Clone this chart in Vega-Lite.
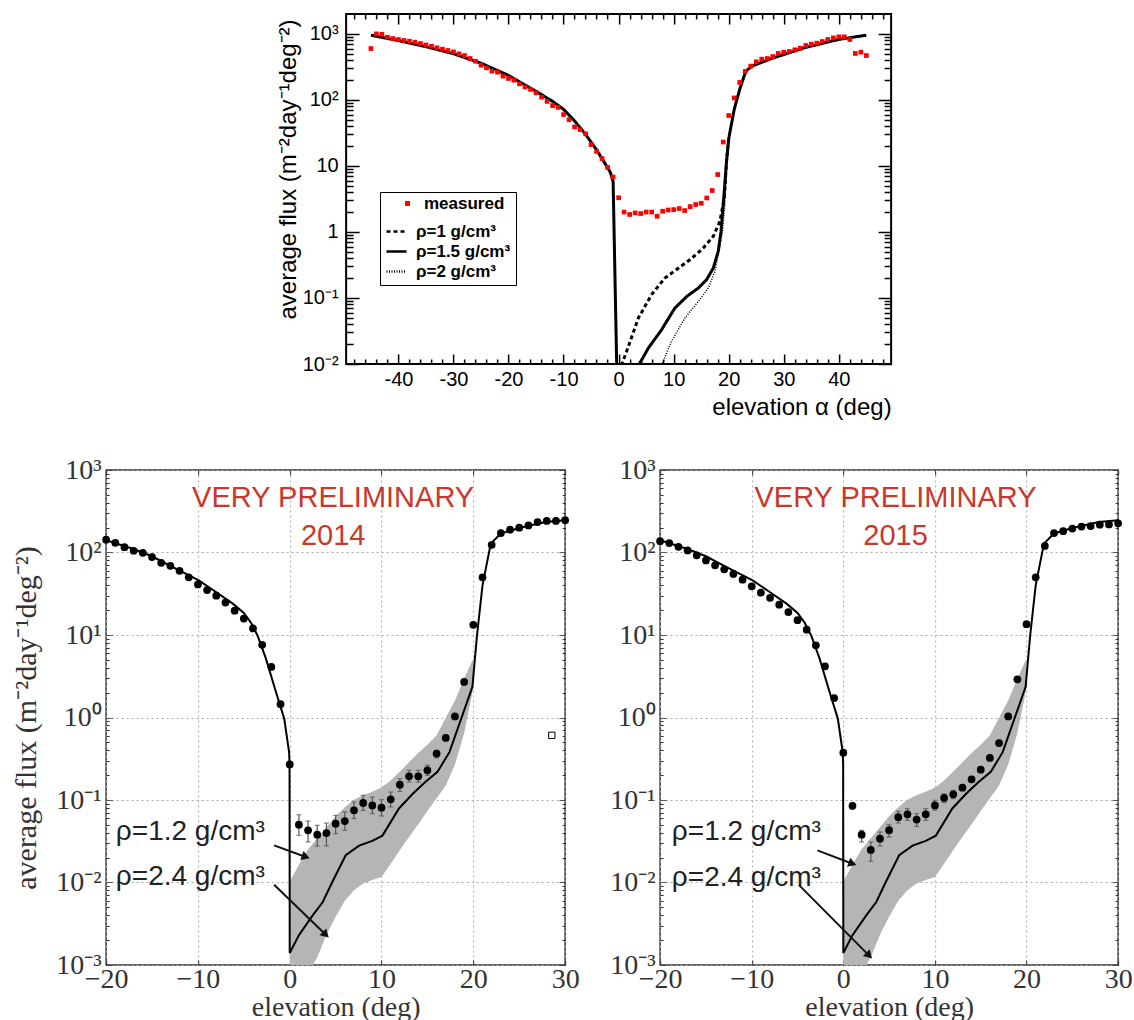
{
 "$schema": "https://vega.github.io/schema/vega-lite/v6.json",
 "padding": {"left": 10, "top": 12, "right": 2, "bottom": 0},
 "background": "white",
 "bounds": "full",
 "center": true,
 "spacing": 35,
 "config": {"font": "Liberation Sans", "axis": {"labelOverlap": false, "labelFlush": false}},
 "datasets": {
  "tmeas": [
   {"x":-45,"y":600},{"x":-44,"y":1000},{"x":-43,"y":985},{"x":-42,"y":890},{"x":-41,"y":850},{"x":-40,"y":820},{"x":-39,"y":795},{"x":-38,"y":775},{"x":-37,"y":750},{"x":-36,"y":715},{"x":-35,"y":680},{"x":-34,"y":650},{"x":-33,"y":615},{"x":-32,"y":586},{"x":-31,"y":560},{"x":-30,"y":533},{"x":-29,"y":498},{"x":-28,"y":470},{"x":-27,"y":424},{"x":-26,"y":385},{"x":-25,"y":336},{"x":-24,"y":306},{"x":-23,"y":272},{"x":-22,"y":263},{"x":-21,"y":229},{"x":-20,"y":211},{"x":-19,"y":199},{"x":-18,"y":175},{"x":-17,"y":157},{"x":-16,"y":144},{"x":-15,"y":128},{"x":-14,"y":110},{"x":-13,"y":95},{"x":-12,"y":82},{"x":-11,"y":77},{"x":-10,"y":60},{"x":-9,"y":50},{"x":-8,"y":39},{"x":-7,"y":35.5},{"x":-6,"y":30.6},{"x":-5,"y":21},{"x":-4,"y":16.6},{"x":-3,"y":12.9},{"x":-2,"y":9.5},{"x":-1,"y":6.8},{"x":0,"y":3.3},{"x":1,"y":2.0},{"x":2,"y":1.84},{"x":3,"y":1.94},{"x":4,"y":1.9},{"x":5,"y":2.0},{"x":6,"y":2.0},{"x":7,"y":1.73},{"x":8,"y":2.06},{"x":9,"y":2.15},{"x":10,"y":2.18},{"x":11,"y":2.26},{"x":12,"y":2.11},{"x":13,"y":2.42},{"x":14,"y":2.6},{"x":15,"y":2.72},{"x":16,"y":3.27},{"x":17,"y":4.24},{"x":18,"y":7.4},{"x":19,"y":23},{"x":20,"y":58},{"x":21,"y":107},{"x":22,"y":184},{"x":23,"y":270},{"x":24,"y":325},{"x":25,"y":377},{"x":26,"y":414},{"x":27,"y":424},{"x":28,"y":454},{"x":29,"y":505},{"x":30,"y":528},{"x":31,"y":541},{"x":32,"y":573},{"x":33,"y":607},{"x":34,"y":667},{"x":35,"y":698},{"x":36,"y":723},{"x":37,"y":767},{"x":38,"y":822},{"x":39,"y":869},{"x":40,"y":901},{"x":41,"y":901},{"x":42,"y":822},{"x":43,"y":505},{"x":44,"y":528},{"x":45,"y":470}
  ],
  "tmodel": [
   {"series":"ρ=1.5 g/cm³","seg":"L","x":-45,"y":955},
   {"series":"ρ=1.5 g/cm³","seg":"L","x":-40,"y":790},
   {"series":"ρ=1.5 g/cm³","seg":"L","x":-35,"y":640},
   {"series":"ρ=1.5 g/cm³","seg":"L","x":-30,"y":500},
   {"series":"ρ=1.5 g/cm³","seg":"L","x":-25,"y":360},
   {"series":"ρ=1.5 g/cm³","seg":"L","x":-20,"y":235},
   {"series":"ρ=1.5 g/cm³","seg":"L","x":-15,"y":135},
   {"series":"ρ=1.5 g/cm³","seg":"L","x":-12,"y":95},
   {"series":"ρ=1.5 g/cm³","seg":"L","x":-10,"y":72},
   {"series":"ρ=1.5 g/cm³","seg":"L","x":-8,"y":48},
   {"series":"ρ=1.5 g/cm³","seg":"L","x":-6,"y":30},
   {"series":"ρ=1.5 g/cm³","seg":"L","x":-4,"y":17.5},
   {"series":"ρ=1.5 g/cm³","seg":"L","x":-2.5,"y":11},
   {"series":"ρ=1.5 g/cm³","seg":"L","x":-1.5,"y":8},
   {"series":"ρ=1.5 g/cm³","seg":"L","x":-1,"y":5.8},
   {"series":"ρ=1.5 g/cm³","seg":"L","x":-0.35,"y":0.0095},
   {"series":"ρ=1.5 g/cm³","seg":"R","x":3.6,"y":0.0095},
   {"series":"ρ=1.5 g/cm³","seg":"R","x":5.4,"y":0.0174},
   {"series":"ρ=1.5 g/cm³","seg":"R","x":7.8,"y":0.033},
   {"series":"ρ=1.5 g/cm³","seg":"R","x":10.2,"y":0.07},
   {"series":"ρ=1.5 g/cm³","seg":"R","x":12.4,"y":0.106},
   {"series":"ρ=1.5 g/cm³","seg":"R","x":14.5,"y":0.142},
   {"series":"ρ=1.5 g/cm³","seg":"R","x":16,"y":0.19},
   {"series":"ρ=1.5 g/cm³","seg":"R","x":17.2,"y":0.285},
   {"series":"ρ=1.5 g/cm³","seg":"R","x":18.1,"y":0.51},
   {"series":"ρ=1.5 g/cm³","seg":"R","x":18.6,"y":1.02},
   {"series":"ρ=1.5 g/cm³","seg":"R","x":19.0,"y":2.6},
   {"series":"ρ=1.5 g/cm³","seg":"R","x":19.3,"y":5.5},
   {"series":"ρ=1.5 g/cm³","seg":"R","x":19.6,"y":11.7},
   {"series":"ρ=1.5 g/cm³","seg":"R","x":20,"y":26},
   {"series":"ρ=1.5 g/cm³","seg":"R","x":21,"y":72},
   {"series":"ρ=1.5 g/cm³","seg":"R","x":22,"y":145},
   {"series":"ρ=1.5 g/cm³","seg":"R","x":23.1,"y":272},
   {"series":"ρ=1.5 g/cm³","seg":"R","x":24.2,"y":324},
   {"series":"ρ=1.5 g/cm³","seg":"R","x":27.8,"y":424},
   {"series":"ρ=1.5 g/cm³","seg":"R","x":33.9,"y":620},
   {"series":"ρ=1.5 g/cm³","seg":"R","x":39.9,"y":822},
   {"series":"ρ=1.5 g/cm³","seg":"R","x":45,"y":955},
   {"series":"ρ=1 g/cm³","seg":"R","x":0.5,"y":0.0095},
   {"series":"ρ=1 g/cm³","seg":"R","x":1.45,"y":0.0155},
   {"series":"ρ=1 g/cm³","seg":"R","x":3.6,"y":0.05},
   {"series":"ρ=1 g/cm³","seg":"R","x":6,"y":0.113},
   {"series":"ρ=1 g/cm³","seg":"R","x":8.4,"y":0.2},
   {"series":"ρ=1 g/cm³","seg":"R","x":10.9,"y":0.285},
   {"series":"ρ=1 g/cm³","seg":"R","x":13,"y":0.382},
   {"series":"ρ=1 g/cm³","seg":"R","x":15.1,"y":0.54},
   {"series":"ρ=1 g/cm³","seg":"R","x":17.2,"y":0.86},
   {"series":"ρ=1 g/cm³","seg":"R","x":18.4,"y":1.45},
   {"series":"ρ=1 g/cm³","seg":"R","x":19.2,"y":3.3},
   {"series":"ρ=1 g/cm³","seg":"R","x":19.6,"y":11.7},
   {"series":"ρ=1 g/cm³","seg":"R","x":20,"y":26},
   {"series":"ρ=2 g/cm³","seg":"R","x":7.8,"y":0.0095},
   {"series":"ρ=2 g/cm³","seg":"R","x":9.6,"y":0.022},
   {"series":"ρ=2 g/cm³","seg":"R","x":12.05,"y":0.05},
   {"series":"ρ=2 g/cm³","seg":"R","x":14.5,"y":0.089},
   {"series":"ρ=2 g/cm³","seg":"R","x":16.3,"y":0.142},
   {"series":"ρ=2 g/cm³","seg":"R","x":17.5,"y":0.254},
   {"series":"ρ=2 g/cm³","seg":"R","x":18.2,"y":0.51},
   {"series":"ρ=2 g/cm³","seg":"R","x":18.85,"y":1.0},
   {"series":"ρ=2 g/cm³","seg":"R","x":19.3,"y":2.6},
   {"series":"ρ=2 g/cm³","seg":"R","x":19.6,"y":11.7},
   {"series":"ρ=2 g/cm³","seg":"R","x":20,"y":26}
  ],
  "bmodel": [
   {"x":-20,"y":141},{"x":-17.1,"y":111},{"x":-15,"y":90},{"x":-12.8,"y":67},{"x":-9.9,"y":46},{"x":-8,"y":33},{"x":-6.2,"y":24},{"x":-5,"y":18.5},{"x":-4.2,"y":14},{"x":-3.5,"y":9.8},{"x":-2.6,"y":5.2},{"x":-1.5,"y":2.04},{"x":-0.6,"y":0.97},{"x":-0.07,"y":0.38},{"x":-0.02,"y":0.28},{"x":0,"y":0.0014},{"x":1.0,"y":0.0023},{"x":2.5,"y":0.004},{"x":3.6,"y":0.0058},{"x":4.65,"y":0.0102},{"x":6.1,"y":0.0214},{"x":7.56,"y":0.028},{"x":9,"y":0.032},{"x":10.1,"y":0.037},{"x":11.9,"y":0.079},{"x":13.4,"y":0.119},{"x":14.8,"y":0.166},{"x":16.1,"y":0.22},{"x":17.4,"y":0.38},{"x":19.9,"y":2.35},{"x":20.4,"y":9.9},{"x":21,"y":40},{"x":21.9,"y":128},{"x":23,"y":170},{"x":25,"y":198},{"x":27.9,"y":234},{"x":30,"y":246}
  ],
  "band": [
   {"x":0,"lo":0.0004,"hi":0.0102},{"x":1,"lo":0.0006,"hi":0.0164},{"x":2,"lo":0.0008,"hi":0.0253},{"x":3,"lo":0.00124,"hi":0.0345},{"x":4,"lo":0.00232,"hi":0.0469},{"x":5,"lo":0.00384,"hi":0.0637},{"x":6,"lo":0.006,"hi":0.0817},{"x":7,"lo":0.00803,"hi":0.1007},{"x":8,"lo":0.00973,"hi":0.1138},{"x":9,"lo":0.0107,"hi":0.126},{"x":10,"lo":0.0117,"hi":0.142},{"x":11,"lo":0.0169,"hi":0.172},{"x":12,"lo":0.0247,"hi":0.222},{"x":13,"lo":0.0355,"hi":0.287},{"x":14,"lo":0.051,"hi":0.371},{"x":15,"lo":0.0735,"hi":0.469},{"x":16,"lo":0.105,"hi":0.608},{"x":17,"lo":0.15,"hi":0.99},{"x":18,"lo":0.269,"hi":1.61},{"x":19,"lo":0.645,"hi":2.96},{"x":20,"lo":2.3,"hi":5.2}
  ],
  "p14": [
   {"x":-20,"y":143},{"x":-19,"y":131},{"x":-18,"y":116},{"x":-17,"y":105},{"x":-16,"y":99},{"x":-15,"y":88},{"x":-14,"y":75},{"x":-13,"y":69},{"x":-12,"y":60},{"x":-11,"y":50},{"x":-10,"y":41},{"x":-9,"y":35},{"x":-8,"y":30},{"x":-7,"y":24.7},{"x":-6,"y":19.7},{"x":-5,"y":15.8},{"x":-4,"y":12},{"x":-3,"y":7.6},{"x":-2,"y":4.1},{"x":-1,"y":1.45},{"x":0,"y":0.27},{"x":1,"y":0.0502},{"x":2,"y":0.0429},{"x":3,"y":0.038},{"x":4,"y":0.0398},{"x":5,"y":0.0516},{"x":6,"y":0.0556},{"x":7,"y":0.075},{"x":8,"y":0.092},{"x":9,"y":0.086},{"x":10,"y":0.0807},{"x":11,"y":0.102},{"x":12,"y":0.1535},{"x":13,"y":0.1936},{"x":14,"y":0.1936},{"x":15,"y":0.229},{"x":16,"y":0.365},{"x":17,"y":0.565},{"x":18,"y":1.03},{"x":19,"y":2.7},{"x":20,"y":13.3},{"x":21,"y":50},{"x":22,"y":124},{"x":23,"y":172},{"x":24,"y":189},{"x":25,"y":200},{"x":26,"y":213},{"x":27,"y":234},{"x":28,"y":241},{"x":29,"y":241},{"x":30,"y":246}
  ],
  "e14": [
   {"x":1,"lo":0.0373,"hi":0.0664},{"x":2,"lo":0.031,"hi":0.0556},{"x":3,"lo":0.0277,"hi":0.0493},{"x":4,"lo":0.0277,"hi":0.0526},{"x":5,"lo":0.0391,"hi":0.0652},{"x":6,"lo":0.0429,"hi":0.0716},{"x":7,"lo":0.0594,"hi":0.0946},{"x":8,"lo":0.075,"hi":0.114},{"x":9,"lo":0.0683,"hi":0.1087},{"x":10,"lo":0.064,"hi":0.101},{"x":11,"lo":0.0822,"hi":0.125},{"x":12,"lo":0.127,"hi":0.1815},{"x":13,"lo":0.165,"hi":0.229},{"x":14,"lo":0.165,"hi":0.229},{"x":15,"lo":0.199,"hi":0.263},{"x":16,"lo":0.323,"hi":0.4}
  ],
  "p15": [
   {"x":-20,"y":137},{"x":-19,"y":130},{"x":-18,"y":117},{"x":-17,"y":106},{"x":-16,"y":92.5},{"x":-15,"y":80},{"x":-14,"y":70},{"x":-13,"y":62.5},{"x":-12,"y":55},{"x":-11,"y":46.8},{"x":-10,"y":38.9},{"x":-9,"y":32.6},{"x":-8,"y":28.2},{"x":-7,"y":23.3},{"x":-6,"y":19},{"x":-5,"y":15.1},{"x":-4,"y":11.6},{"x":-3,"y":7.5},{"x":-2,"y":4.17},{"x":-1,"y":1.72},{"x":0,"y":0.374},{"x":1,"y":0.085},{"x":2,"y":0.038},{"x":3,"y":0.0248},{"x":4,"y":0.034},{"x":5,"y":0.043},{"x":6,"y":0.062},{"x":7,"y":0.067},{"x":8,"y":0.058},{"x":9,"y":0.067},{"x":10,"y":0.086},{"x":11,"y":0.106},{"x":12,"y":0.117},{"x":13,"y":0.141},{"x":14,"y":0.178},{"x":15,"y":0.233},{"x":16,"y":0.323},{"x":17,"y":0.49},{"x":18,"y":1.03},{"x":19,"y":2.9},{"x":20,"y":13.5},{"x":21,"y":50},{"x":22,"y":120},{"x":23,"y":172},{"x":24,"y":181},{"x":25,"y":195},{"x":26,"y":206},{"x":27,"y":209},{"x":28,"y":217},{"x":29,"y":219},{"x":30,"y":226}
  ],
  "e15": [
   {"x":1,"lo":0.078,"hi":0.092},{"x":2,"lo":0.031,"hi":0.0429},{"x":3,"lo":0.018,"hi":0.031},{"x":4,"lo":0.0277,"hi":0.041},{"x":5,"lo":0.0356,"hi":0.0502},{"x":6,"lo":0.0526,"hi":0.073},{"x":7,"lo":0.0567,"hi":0.0785},{"x":8,"lo":0.048,"hi":0.0683},{"x":9,"lo":0.0567,"hi":0.0785},{"x":10,"lo":0.075,"hi":0.099},{"x":11,"lo":0.093,"hi":0.119},{"x":12,"lo":0.104,"hi":0.131}
  ],
  "t14": [{"x":4.73,"y":457,"text":"VERY PRELIMINARY"},{"x":4.73,"y":158,"text":"2014"}],
  "t15": [{"x":5.7,"y":457,"text":"VERY PRELIMINARY"},{"x":5.7,"y":158,"text":"2015"}],
  "r14": [{"x":-18.94,"y":0.041,"text":"ρ=1.2 g/cm³"},{"x":-18.94,"y":0.0117,"text":"ρ=2.4 g/cm³"}],
  "r15": [{"x":-18.72,"y":0.041,"text":"ρ=1.2 g/cm³"},{"x":-18.72,"y":0.0113,"text":"ρ=2.4 g/cm³"}],
  "a14": [{"k":"a","x":-1.7,"y":0.0282,"x2":1.75,"y2":0.0204},{"k":"b","x":-1.7,"y":0.0094,"x2":3.93,"y2":0.00233}],
  "a15": [{"k":"a","x":-2.83,"y":0.0245,"x2":1.0,"y2":0.0169},{"k":"b","x":-4.83,"y":0.0093,"x2":2.82,"y2":0.0013}],
  "sq14": [{"x":28.55,"y":0.608}]
 },
 "vconcat": [
  {
   "width": 545, "height": 350,
   "view": {"stroke": "black", "strokeWidth": 2},
   "resolve": {"axis": {"x": "independent", "y": "independent"}},
   "layer": [
    {
     "data": {"name": "tmodel"},
     "transform": [{"filter": "datum.series != 'ρ=2 g/cm³'"}],
     "mark": {"type": "line", "clip": true, "color": "black", "strokeWidth": 3},
     "encoding": {
      "x": {"field": "x", "type": "quantitative", "scale": {"domain": [-49.5, 49.5], "nice": false, "zero": false},
            "axis": {"orient": "top", "labels": false, "domain": false, "grid": false, "title": null,
                     "values": [-48,-46,-44,-42,-40,-38,-36,-34,-32,-30,-28,-26,-24,-22,-20,-18,-16,-14,-12,-10,-8,-6,-4,-2,0,2,4,6,8,10,12,14,16,18,20,22,24,26,28,30,32,34,36,38,40,42,44,46,48],
                     "tickColor": "black", "tickWidth": 1.5, "tickSize": -10,
                     "tickDash": {"condition": {"test": "datum.value % 10 === 0", "value": [1, 0]}, "value": [5, 30]}}},
      "y": {"field": "y", "type": "quantitative", "scale": {"type": "log", "domain": [0.01, 2000], "nice": false},
            "axis": {"orient": "right", "labels": false, "domain": false, "grid": false, "title": null,
                     "values": [0.01,0.02,0.03,0.04,0.05,0.06,0.07,0.08,0.09,0.1,0.2,0.3,0.4,0.5,0.6,0.7,0.8,0.9,1,2,3,4,5,6,7,8,9,10,20,30,40,50,60,70,80,90,100,200,300,400,500,600,700,800,900,1000],
                     "tickColor": "black", "tickWidth": 1.5, "tickSize": -13,
                     "tickDash": {"condition": {"test": "abs(log(datum.value)/LN10 - round(log(datum.value)/LN10)) < 1e-6", "value": [1, 0]}, "value": [7, 30]}}},
      "detail": {"field": "seg", "type": "nominal"},
      "strokeDash": {"field": "series", "type": "nominal",
        "scale": {"domain": ["ρ=1 g/cm³", "ρ=1.5 g/cm³", "ρ=2 g/cm³"], "range": [[4,3],[1,0],[1,1.5]]},
        "legend": {
          "orient": "none", "legendX": 274, "legendY": 178, "title": " ", "titleFontSize": 17, "titlePadding": 6,
          "labelFont": "Liberation Sans", "labelFontSize": 17, "labelFontWeight": "bold", "labelColor": "black",
          "labelOffset": 8, "symbolSize": 400, "symbolStrokeWidth": 2.5, "symbolStrokeColor": "black",
          "padding": 5, "rowPadding": 0,
          "strokeColor": "black", "fillColor": "white", "zindex": 1
        }}
     }
    },
    {
     "data": {"name": "tmodel"},
     "transform": [{"filter": "datum.series == 'ρ=2 g/cm³'"}],
     "mark": {"type": "line", "clip": true, "color": "black", "strokeWidth": 1.5},
     "encoding": {
      "x": {"field": "x", "type": "quantitative", "scale": {"domain": [-49.5, 49.5], "nice": false, "zero": false}, "axis": null},
      "y": {"field": "y", "type": "quantitative", "scale": {"type": "log", "domain": [0.01, 2000], "nice": false}, "axis": null},
      "detail": {"field": "seg", "type": "nominal"},
      "strokeDash": {"field": "series", "type": "nominal",
        "scale": {"domain": ["ρ=1 g/cm³", "ρ=1.5 g/cm³", "ρ=2 g/cm³"], "range": [[4,3],[1,0],[1,1.5]]}}
     }
    },
    {
     "data": {"name": "tmeas"},
     "mark": {"type": "square", "size": 22, "opacity": 1},
     "encoding": {
      "x": {"field": "x", "type": "quantitative", "scale": {"domain": [-49.5, 49.5], "nice": false, "zero": false},
            "axis": {"orient": "bottom", "domain": false, "grid": false,
                     "values": [-48,-46,-44,-42,-40,-38,-36,-34,-32,-30,-28,-26,-24,-22,-20,-18,-16,-14,-12,-10,-8,-6,-4,-2,0,2,4,6,8,10,12,14,16,18,20,22,24,26,28,30,32,34,36,38,40,42,44,46,48],
                     "labelExpr": "datum.value % 10 === 0 ? '' + datum.value : ''",
                     "labelFont": "Liberation Sans", "labelFontSize": 20, "labelColor": "black", "labelPadding": 15,
                     "tickColor": "black", "tickWidth": 1.5, "tickSize": -10,
                     "tickDash": {"condition": {"test": "datum.value % 10 === 0", "value": [1, 0]}, "value": [5, 30]},
                     "title": "elevation α (deg)", "titleFont": "Liberation Sans", "titleFontSize": 24, "titleFontWeight": "normal",
                     "titleColor": "black", "titleAnchor": "end", "titlePadding": 6}},
      "y": {"field": "y", "type": "quantitative", "scale": {"type": "log", "domain": [0.01, 2000], "nice": false},
            "axis": {"orient": "left", "domain": false, "grid": false,
                     "values": [0.01,0.02,0.03,0.04,0.05,0.06,0.07,0.08,0.09,0.1,0.2,0.3,0.4,0.5,0.6,0.7,0.8,0.9,1,2,3,4,5,6,7,8,9,10,20,30,40,50,60,70,80,90,100,200,300,400,500,600,700,800,900,1000],
                     "labelExpr": "datum.value == 1000 ? '10³' : datum.value == 100 ? '10²' : datum.value == 10 ? '10' : datum.value == 1 ? '1' : datum.value == 0.1 ? '10⁻¹' : datum.value == 0.01 ? '10⁻²' : ''",
                     "labelFont": "Liberation Sans", "labelFontSize": 20, "labelColor": "black", "labelPadding": 21,
                     "tickColor": "black", "tickWidth": 1.5, "tickSize": -13,
                     "tickDash": {"condition": {"test": "abs(log(datum.value)/LN10 - round(log(datum.value)/LN10)) < 1e-6", "value": [1, 0]}, "value": [7, 30]},
                     "title": "average flux (m⁻²day⁻¹deg⁻²)", "titleFont": "Liberation Sans", "titleFontSize": 24, "titleFontWeight": "normal",
                     "titleColor": "black", "titlePadding": 2, "titleY": 155}},
      "color": {"datum": "measured", "type": "nominal",
        "scale": {"domain": ["measured"], "range": ["red"]},
        "legend": {"orient": "none", "legendX": 293, "legendY": 181, "title": null, "padding": 0,
                   "labelFont": "Liberation Sans", "labelFontSize": 17, "labelFontWeight": "bold", "labelColor": "black",
                   "labelOffset": 8, "symbolType": "square", "symbolSize": 25, "zindex": 2}}
     }
    }
   ]
  },
  {
   "bounds": "flush",
   "spacing": 95,
   "hconcat": [
    {
     "width": 459, "height": 495,
     "view": {"stroke": "#333", "strokeWidth": 1.5},
     "resolve": {"axis": {"x": "independent", "y": "independent"}},
     "layer": [
      {
       "data": {"name": "band"},
       "mark": {"type": "area", "color": "#b5b5b5", "opacity": 1, "clip": true},
       "encoding": {
        "x": {"field": "x", "type": "quantitative", "scale": {"domain": [-20, 30], "nice": false, "zero": false},
              "axis": {"orient": "bottom", "values": [-20,-10,0,10,20,30], "domain": false,
                       "labelExpr": "datum.value < 0 ? '−' + abs(datum.value) : '' + datum.value",
                       "labelFont": "Liberation Serif", "labelFontSize": 28, "labelColor": "#333", "labelPadding": 5,
                       "tickColor": "#333", "tickSize": -5, "grid": true, "gridColor": "#aaa", "gridDash": [2,3], "gridWidth": 1,
                       "title": "elevation (deg)", "titleFont": "Liberation Serif", "titleFontSize": 28, "titleFontWeight": "normal",
                       "titleColor": "#333", "titlePadding": 0}},
        "y": {"field": "lo", "type": "quantitative", "scale": {"type": "log", "domain": [0.001, 1000], "nice": false},
              "axis": {"orient": "left", "domain": false,
                       "values": [0.001,0.002,0.003,0.004,0.005,0.006,0.007,0.008,0.009,0.01,0.02,0.03,0.04,0.05,0.06,0.07,0.08,0.09,0.1,0.2,0.3,0.4,0.5,0.6,0.7,0.8,0.9,1,2,3,4,5,6,7,8,9,10,20,30,40,50,60,70,80,90,100,200,300,400,500,600,700,800,900,1000],
                       "labelExpr": "datum.value == 1000 ? '10³' : datum.value == 100 ? '10²' : datum.value == 10 ? '10¹' : datum.value == 1 ? '10⁰' : datum.value == 0.1 ? '10⁻¹' : datum.value == 0.01 ? '10⁻²' : datum.value == 0.001 ? '10⁻³' : ''",
                       "labelFont": "Liberation Serif", "labelFontSize": 28, "labelColor": "#333", "labelPadding": 11,
                       "tickColor": "#333", "tickSize": -6,
                       "tickDash": {"condition": {"test": "abs(log(datum.value)/LN10 - round(log(datum.value)/LN10)) < 1e-6", "value": [1, 0]}, "value": [3, 30]},
                       "grid": true, "gridColor": "#aaa", "gridDash": [2,3], "gridWidth": 1,
                       "gridOpacity": {"condition": {"test": "abs(log(datum.value)/LN10 - round(log(datum.value)/LN10)) < 1e-6", "value": 1}, "value": 0},
                       "title": "average flux (m⁻²day⁻¹deg⁻²)", "titleFont": "Liberation Serif", "titleFontSize": 30, "titleFontWeight": "normal",
                       "titleColor": "#333", "titlePadding": 14}},
        "y2": {"field": "hi"}
       }
      },
      {
       "data": {"name": "bmodel"},
       "mark": {"type": "line", "color": "black", "strokeWidth": 2, "clip": true},
       "encoding": {
        "x": {"field": "x", "type": "quantitative", "scale": {"domain": [-20, 30], "nice": false, "zero": false},
              "axis": {"orient": "top", "labels": false, "domain": false, "grid": false, "title": null, "values": [-20,-10,0,10,20,30], "tickColor": "#333", "tickSize": -5}},
        "y": {"field": "y", "type": "quantitative", "scale": {"type": "log", "domain": [0.001, 1000], "nice": false},
              "axis": {"orient": "right", "labels": false, "domain": false, "grid": false, "title": null,
                       "values": [0.001,0.002,0.003,0.004,0.005,0.006,0.007,0.008,0.009,0.01,0.02,0.03,0.04,0.05,0.06,0.07,0.08,0.09,0.1,0.2,0.3,0.4,0.5,0.6,0.7,0.8,0.9,1,2,3,4,5,6,7,8,9,10,20,30,40,50,60,70,80,90,100,200,300,400,500,600,700,800,900,1000],
                       "tickColor": "#333", "tickSize": -6,
                       "tickDash": {"condition": {"test": "abs(log(datum.value)/LN10 - round(log(datum.value)/LN10)) < 1e-6", "value": [1, 0]}, "value": [3, 30]}}}
       }
      },
      {
       "data": {"name": "e14"},
       "mark": {"type": "errorbar", "ticks": true, "color": "#555", "thickness": 1.2},
       "encoding": {
        "x": {"field": "x", "type": "quantitative", "scale": {"domain": [-20, 30], "nice": false, "zero": false}, "axis": null},
        "y": {"field": "lo", "type": "quantitative", "scale": {"type": "log", "domain": [0.001, 1000], "nice": false}, "axis": null},
        "y2": {"field": "hi"}
       }
      },
      {
       "data": {"name": "p14"},
       "mark": {"type": "circle", "color": "black", "size": 60, "opacity": 1},
       "encoding": {
        "x": {"field": "x", "type": "quantitative", "scale": {"domain": [-20, 30], "nice": false, "zero": false}, "axis": null},
        "y": {"field": "y", "type": "quantitative", "scale": {"type": "log", "domain": [0.001, 1000], "nice": false}, "axis": null}
       }
      },
      {
       "data": {"name": "t14"},
       "mark": {"type": "text", "font": "Liberation Sans", "fontSize": 29, "color": "#c8382c", "align": "center", "baseline": "middle"},
       "encoding": {
        "x": {"field": "x", "type": "quantitative", "scale": {"domain": [-20, 30], "nice": false, "zero": false}, "axis": null},
        "y": {"field": "y", "type": "quantitative", "scale": {"type": "log", "domain": [0.001, 1000], "nice": false}, "axis": null},
        "text": {"field": "text"}
       }
      },
      {
       "data": {"name": "r14"},
       "mark": {"type": "text", "font": "Liberation Sans", "fontSize": 28, "color": "#222", "align": "left", "baseline": "middle"},
       "encoding": {
        "x": {"field": "x", "type": "quantitative", "scale": {"domain": [-20, 30], "nice": false, "zero": false}, "axis": null},
        "y": {"field": "y", "type": "quantitative", "scale": {"type": "log", "domain": [0.001, 1000], "nice": false}, "axis": null},
        "text": {"field": "text"}
       }
      },
      {
       "data": {"name": "a14"},
       "mark": {"type": "rule", "color": "#111", "strokeWidth": 2},
       "encoding": {
        "x": {"field": "x", "type": "quantitative", "scale": {"domain": [-20, 30], "nice": false, "zero": false}, "axis": null},
        "y": {"field": "y", "type": "quantitative", "scale": {"type": "log", "domain": [0.001, 1000], "nice": false}, "axis": null},
        "x2": {"field": "x2"},
        "y2": {"field": "y2"}
       }
      },
      {
       "data": {"name": "a14"},
       "transform": [{"filter": "datum.k == 'a'"}],
       "mark": {"type": "point", "shape": "triangle-right", "filled": true, "color": "#111", "size": 90, "opacity": 1, "angle": 20},
       "encoding": {
        "x": {"field": "x2", "type": "quantitative", "scale": {"domain": [-20, 30], "nice": false, "zero": false}, "axis": null},
        "y": {"field": "y2", "type": "quantitative", "scale": {"type": "log", "domain": [0.001, 1000], "nice": false}, "axis": null}
       }
      },
      {
       "data": {"name": "a14"},
       "transform": [{"filter": "datum.k == 'b'"}],
       "mark": {"type": "point", "shape": "triangle-right", "filled": true, "color": "#111", "size": 90, "opacity": 1, "angle": 44},
       "encoding": {
        "x": {"field": "x2", "type": "quantitative", "scale": {"domain": [-20, 30], "nice": false, "zero": false}, "axis": null},
        "y": {"field": "y2", "type": "quantitative", "scale": {"type": "log", "domain": [0.001, 1000], "nice": false}, "axis": null}
       }
      },
      {
       "data": {"name": "sq14"},
       "mark": {"type": "point", "shape": "square", "filled": false, "color": "black", "size": 40, "strokeWidth": 1, "opacity": 1},
       "encoding": {
        "x": {"field": "x", "type": "quantitative", "scale": {"domain": [-20, 30], "nice": false, "zero": false}, "axis": null},
        "y": {"field": "y", "type": "quantitative", "scale": {"type": "log", "domain": [0.001, 1000], "nice": false}, "axis": null}
       }
      }
     ]
    },
    {
     "width": 458, "height": 495,
     "view": {"stroke": "#333", "strokeWidth": 1.5},
     "resolve": {"axis": {"x": "independent", "y": "independent"}},
     "layer": [
      {
       "data": {"name": "band"},
       "mark": {"type": "area", "color": "#b5b5b5", "opacity": 1, "clip": true},
       "encoding": {
        "x": {"field": "x", "type": "quantitative", "scale": {"domain": [-20, 30], "nice": false, "zero": false},
              "axis": {"orient": "bottom", "values": [-20,-10,0,10,20,30], "domain": false,
                       "labelExpr": "datum.value < 0 ? '−' + abs(datum.value) : '' + datum.value",
                       "labelFont": "Liberation Serif", "labelFontSize": 28, "labelColor": "#333", "labelPadding": 5,
                       "tickColor": "#333", "tickSize": -5, "grid": true, "gridColor": "#aaa", "gridDash": [2,3], "gridWidth": 1,
                       "title": "elevation (deg)", "titleFont": "Liberation Serif", "titleFontSize": 28, "titleFontWeight": "normal",
                       "titleColor": "#333", "titlePadding": 0}},
        "y": {"field": "lo", "type": "quantitative", "scale": {"type": "log", "domain": [0.001, 1000], "nice": false},
              "axis": {"orient": "left", "domain": false,
                       "values": [0.001,0.002,0.003,0.004,0.005,0.006,0.007,0.008,0.009,0.01,0.02,0.03,0.04,0.05,0.06,0.07,0.08,0.09,0.1,0.2,0.3,0.4,0.5,0.6,0.7,0.8,0.9,1,2,3,4,5,6,7,8,9,10,20,30,40,50,60,70,80,90,100,200,300,400,500,600,700,800,900,1000],
                       "labelExpr": "datum.value == 1000 ? '10³' : datum.value == 100 ? '10²' : datum.value == 10 ? '10¹' : datum.value == 1 ? '10⁰' : datum.value == 0.1 ? '10⁻¹' : datum.value == 0.01 ? '10⁻²' : datum.value == 0.001 ? '10⁻³' : ''",
                       "labelFont": "Liberation Serif", "labelFontSize": 28, "labelColor": "#333", "labelPadding": 11,
                       "tickColor": "#333", "tickSize": -6,
                       "tickDash": {"condition": {"test": "abs(log(datum.value)/LN10 - round(log(datum.value)/LN10)) < 1e-6", "value": [1, 0]}, "value": [3, 30]},
                       "grid": true, "gridColor": "#aaa", "gridDash": [2,3], "gridWidth": 1,
                       "gridOpacity": {"condition": {"test": "abs(log(datum.value)/LN10 - round(log(datum.value)/LN10)) < 1e-6", "value": 1}, "value": 0},
                       "title": null}},
        "y2": {"field": "hi"}
       }
      },
      {
       "data": {"name": "bmodel"},
       "mark": {"type": "line", "color": "black", "strokeWidth": 2, "clip": true},
       "encoding": {
        "x": {"field": "x", "type": "quantitative", "scale": {"domain": [-20, 30], "nice": false, "zero": false},
              "axis": {"orient": "top", "labels": false, "domain": false, "grid": false, "title": null, "values": [-20,-10,0,10,20,30], "tickColor": "#333", "tickSize": -5}},
        "y": {"field": "y", "type": "quantitative", "scale": {"type": "log", "domain": [0.001, 1000], "nice": false},
              "axis": {"orient": "right", "labels": false, "domain": false, "grid": false, "title": null,
                       "values": [0.001,0.002,0.003,0.004,0.005,0.006,0.007,0.008,0.009,0.01,0.02,0.03,0.04,0.05,0.06,0.07,0.08,0.09,0.1,0.2,0.3,0.4,0.5,0.6,0.7,0.8,0.9,1,2,3,4,5,6,7,8,9,10,20,30,40,50,60,70,80,90,100,200,300,400,500,600,700,800,900,1000],
                       "tickColor": "#333", "tickSize": -6,
                       "tickDash": {"condition": {"test": "abs(log(datum.value)/LN10 - round(log(datum.value)/LN10)) < 1e-6", "value": [1, 0]}, "value": [3, 30]}}}
       }
      },
      {
       "data": {"name": "e15"},
       "mark": {"type": "errorbar", "ticks": true, "color": "#555", "thickness": 1.2},
       "encoding": {
        "x": {"field": "x", "type": "quantitative", "scale": {"domain": [-20, 30], "nice": false, "zero": false}, "axis": null},
        "y": {"field": "lo", "type": "quantitative", "scale": {"type": "log", "domain": [0.001, 1000], "nice": false}, "axis": null},
        "y2": {"field": "hi"}
       }
      },
      {
       "data": {"name": "p15"},
       "mark": {"type": "circle", "color": "black", "size": 60, "opacity": 1},
       "encoding": {
        "x": {"field": "x", "type": "quantitative", "scale": {"domain": [-20, 30], "nice": false, "zero": false}, "axis": null},
        "y": {"field": "y", "type": "quantitative", "scale": {"type": "log", "domain": [0.001, 1000], "nice": false}, "axis": null}
       }
      },
      {
       "data": {"name": "t15"},
       "mark": {"type": "text", "font": "Liberation Sans", "fontSize": 29, "color": "#c8382c", "align": "center", "baseline": "middle"},
       "encoding": {
        "x": {"field": "x", "type": "quantitative", "scale": {"domain": [-20, 30], "nice": false, "zero": false}, "axis": null},
        "y": {"field": "y", "type": "quantitative", "scale": {"type": "log", "domain": [0.001, 1000], "nice": false}, "axis": null},
        "text": {"field": "text"}
       }
      },
      {
       "data": {"name": "r15"},
       "mark": {"type": "text", "font": "Liberation Sans", "fontSize": 28, "color": "#222", "align": "left", "baseline": "middle"},
       "encoding": {
        "x": {"field": "x", "type": "quantitative", "scale": {"domain": [-20, 30], "nice": false, "zero": false}, "axis": null},
        "y": {"field": "y", "type": "quantitative", "scale": {"type": "log", "domain": [0.001, 1000], "nice": false}, "axis": null},
        "text": {"field": "text"}
       }
      },
      {
       "data": {"name": "a15"},
       "mark": {"type": "rule", "color": "#111", "strokeWidth": 2},
       "encoding": {
        "x": {"field": "x", "type": "quantitative", "scale": {"domain": [-20, 30], "nice": false, "zero": false}, "axis": null},
        "y": {"field": "y", "type": "quantitative", "scale": {"type": "log", "domain": [0.001, 1000], "nice": false}, "axis": null},
        "x2": {"field": "x2"},
        "y2": {"field": "y2"}
       }
      },
      {
       "data": {"name": "a15"},
       "transform": [{"filter": "datum.k == 'a'"}],
       "mark": {"type": "point", "shape": "triangle-right", "filled": true, "color": "#111", "size": 90, "opacity": 1, "angle": 20},
       "encoding": {
        "x": {"field": "x2", "type": "quantitative", "scale": {"domain": [-20, 30], "nice": false, "zero": false}, "axis": null},
        "y": {"field": "y2", "type": "quantitative", "scale": {"type": "log", "domain": [0.001, 1000], "nice": false}, "axis": null}
       }
      },
      {
       "data": {"name": "a15"},
       "transform": [{"filter": "datum.k == 'b'"}],
       "mark": {"type": "point", "shape": "triangle-right", "filled": true, "color": "#111", "size": 90, "opacity": 1, "angle": 45},
       "encoding": {
        "x": {"field": "x2", "type": "quantitative", "scale": {"domain": [-20, 30], "nice": false, "zero": false}, "axis": null},
        "y": {"field": "y2", "type": "quantitative", "scale": {"type": "log", "domain": [0.001, 1000], "nice": false}, "axis": null}
       }
      }
     ]
    }
   ]
  }
 ]
}
